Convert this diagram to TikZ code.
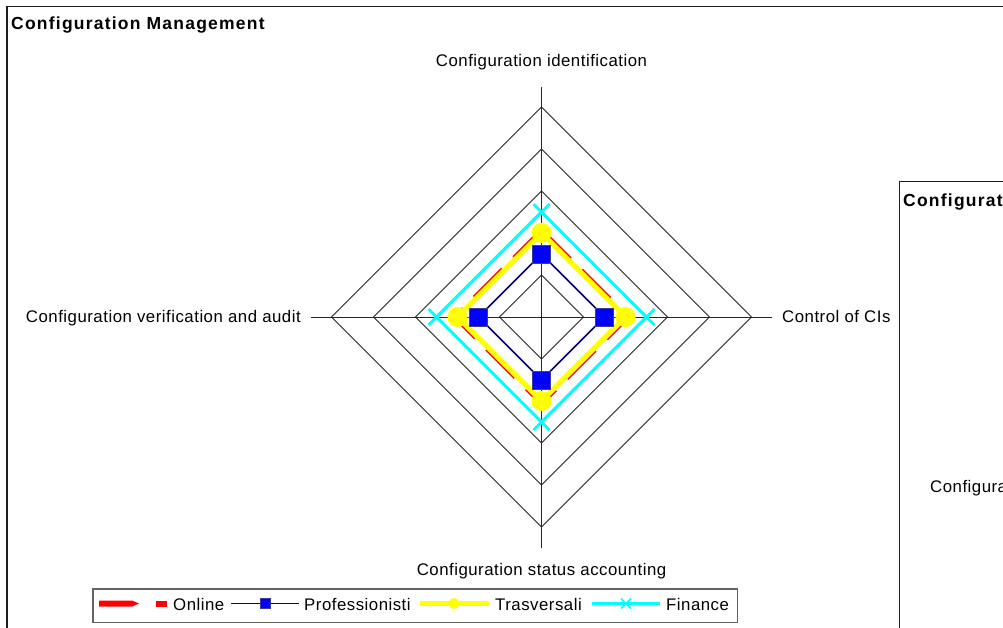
\documentclass[tikz,border=0pt]{standalone}
\usepackage{fontspec}
\setmainfont{Liberation Sans}
\newfontfamily\chartfont{Liberation Sans}[LetterSpace=3]
\newfontfamily\headfont{Liberation Sans}[LetterSpace=7]

\definecolor{seriesnavy}{RGB}{0,0,128}
\definecolor{markblue}{RGB}{0,0,255}
\definecolor{markedge}{RGB}{60,60,150}
\definecolor{seriescyan}{RGB}{0,255,255}
\definecolor{seriesyellow}{RGB}{255,255,0}
\definecolor{seriesred}{RGB}{255,0,0}
\definecolor{panelframe}{RGB}{30,30,30}
\definecolor{legendframe}{RGB}{100,100,100}

\tikzset{
  lbl/.style={font=\chartfont\fontsize{16.8}{18}\selectfont, inner sep=0pt},
  headlbl/.style={font=\headfont\bfseries\fontsize{17.5}{20}\selectfont, inner sep=0pt, anchor=base west},
  panel/.style={draw=panelframe, line width=1.4pt},
  gridline/.style={line width=0.9pt, black!85},
  redser/.style={draw=seriesred, line width=5pt, dash pattern=on 40pt off 16pt},
  navyser/.style={draw=seriesnavy, line width=1.6pt},
  yellowser/.style={draw=seriesyellow, line width=5pt},
  cyanser/.style={draw=seriescyan, line width=3pt},
  sqmark/.style={rectangle, draw=markedge, fill=markblue, line width=0.8pt, minimum size=18pt, inner sep=0pt},
  sqmarksmall/.style={sqmark, minimum size=10pt},
  xmark/.style={draw=seriescyan, line width=2.6pt},
}

\begin{document}
\begin{tikzpicture}[x=1pt,y=-1pt]
\clip (0,0) rectangle (1003,628);
\fill[white] (0,0) rectangle (1003,628);

% main chart panel
\draw[panel] (7,6.5) rectangle (1040,660);
\node[headlbl] (title) at (11,30) {Configuration Management};

% radar grid: five rings and the two axes
\coordinate (O) at (541.5,317);
\foreach \r in {42,84,126,168,210}
  \draw[gridline] (O) ++(0,-\r) -- ++(\r,\r) -- ++(-\r,\r) -- ++(-\r,-\r) -- cycle;
\coordinate (N) at (541.5,87);
\coordinate (S) at (541.5,547.5);
\coordinate (W) at (311,317);
\coordinate (E) at (772,317);
\draw[gridline] (N) -- (S);
\draw[gridline] (W) -- (E);

% category labels
\node[lbl, anchor=base] (lblN) at (541.5,67) {Configuration identification};
\node[lbl, anchor=base] (lblS) at (541.5,575) {Configuration status accounting};
\node[lbl, anchor=base east] (lblW) at (301,322.5) {Configuration verification and audit};
\node[lbl, anchor=base west] (lblE) at (782,322.5) {Control of CIs};

% series lines
\draw[redser] (O) ++(0,-86) -- ++(86,86) -- ++(-86,86) -- ++(-86,-86) -- cycle;
\draw[navyser] (O) ++(0,-63) -- ++(63,63) -- ++(-63,63) -- ++(-63,-63) -- cycle;
\draw[yellowser] (O) ++(0,-84) -- ++(84,84) -- ++(-84,84) -- ++(-84,-84) -- cycle;
\draw[cyanser] (O) ++(0,-105) -- ++(105,105) -- ++(-105,105) -- ++(-105,-105) -- cycle;

% series markers
\foreach \a in {0,90,180,270} {
  \fill[seriesyellow] (O) ++(\a:84) circle (10);
  \path (O) ++(\a:63) node[sqmark] (sq\a) {};
  \draw[xmark] (O) ++(\a:105) ++(-8,-8) -- ++(16,16) ++(0,-16) -- ++(-16,16);
}

% legend
\draw[draw=legendframe, line width=1.3pt, fill=white] (93,589) rectangle (737.5,622.5);
\fill[seriesred] (99,600.5) -- (132,600.5) -- (139,603.5) -- (132,606.5) -- (99,606.5) -- cycle;
\fill[seriesred] (156,600.5) rectangle (167,606.5);
\node[lbl, anchor=base west] (legOnline) at (173,610) {Online};
\coordinate (navyA) at (231,603.5);
\coordinate (navyB) at (299,603.5);
\draw[navyser] (navyA) -- (navyB);
\node[sqmarksmall] (legSq) at (265,603.5) {};
\node[lbl, anchor=base west] (legProf) at (304,610) {Professionisti};
\coordinate (yelA) at (420,603.5);
\coordinate (yelB) at (489,603.5);
\draw[yellowser] (yelA) -- (yelB);
\fill[seriesyellow] (454,603.5) circle (5.5);
\node[lbl, anchor=base west] (legTras) at (495,610) {Trasversali};
\coordinate (cyA) at (592,603.5);
\coordinate (cyB) at (660,603.5);
\draw[cyanser] (cyA) -- (cyB);
\draw[draw=seriescyan, line width=1.6pt] (621,598.5) -- (631,608.5) (631,598.5) -- (621,608.5);
\node[lbl, anchor=base west] (legFin) at (666,610) {Finance};

% neighbouring chart panel, running past the right edge
\draw[panel, fill=white] (899.5,181.5) rectangle (1040,660);
\node[headlbl] (title2) at (903,207) {Configurati};
\node[lbl, anchor=base west] (lblW2) at (930,492) {Configura};
\end{tikzpicture}
\end{document}
